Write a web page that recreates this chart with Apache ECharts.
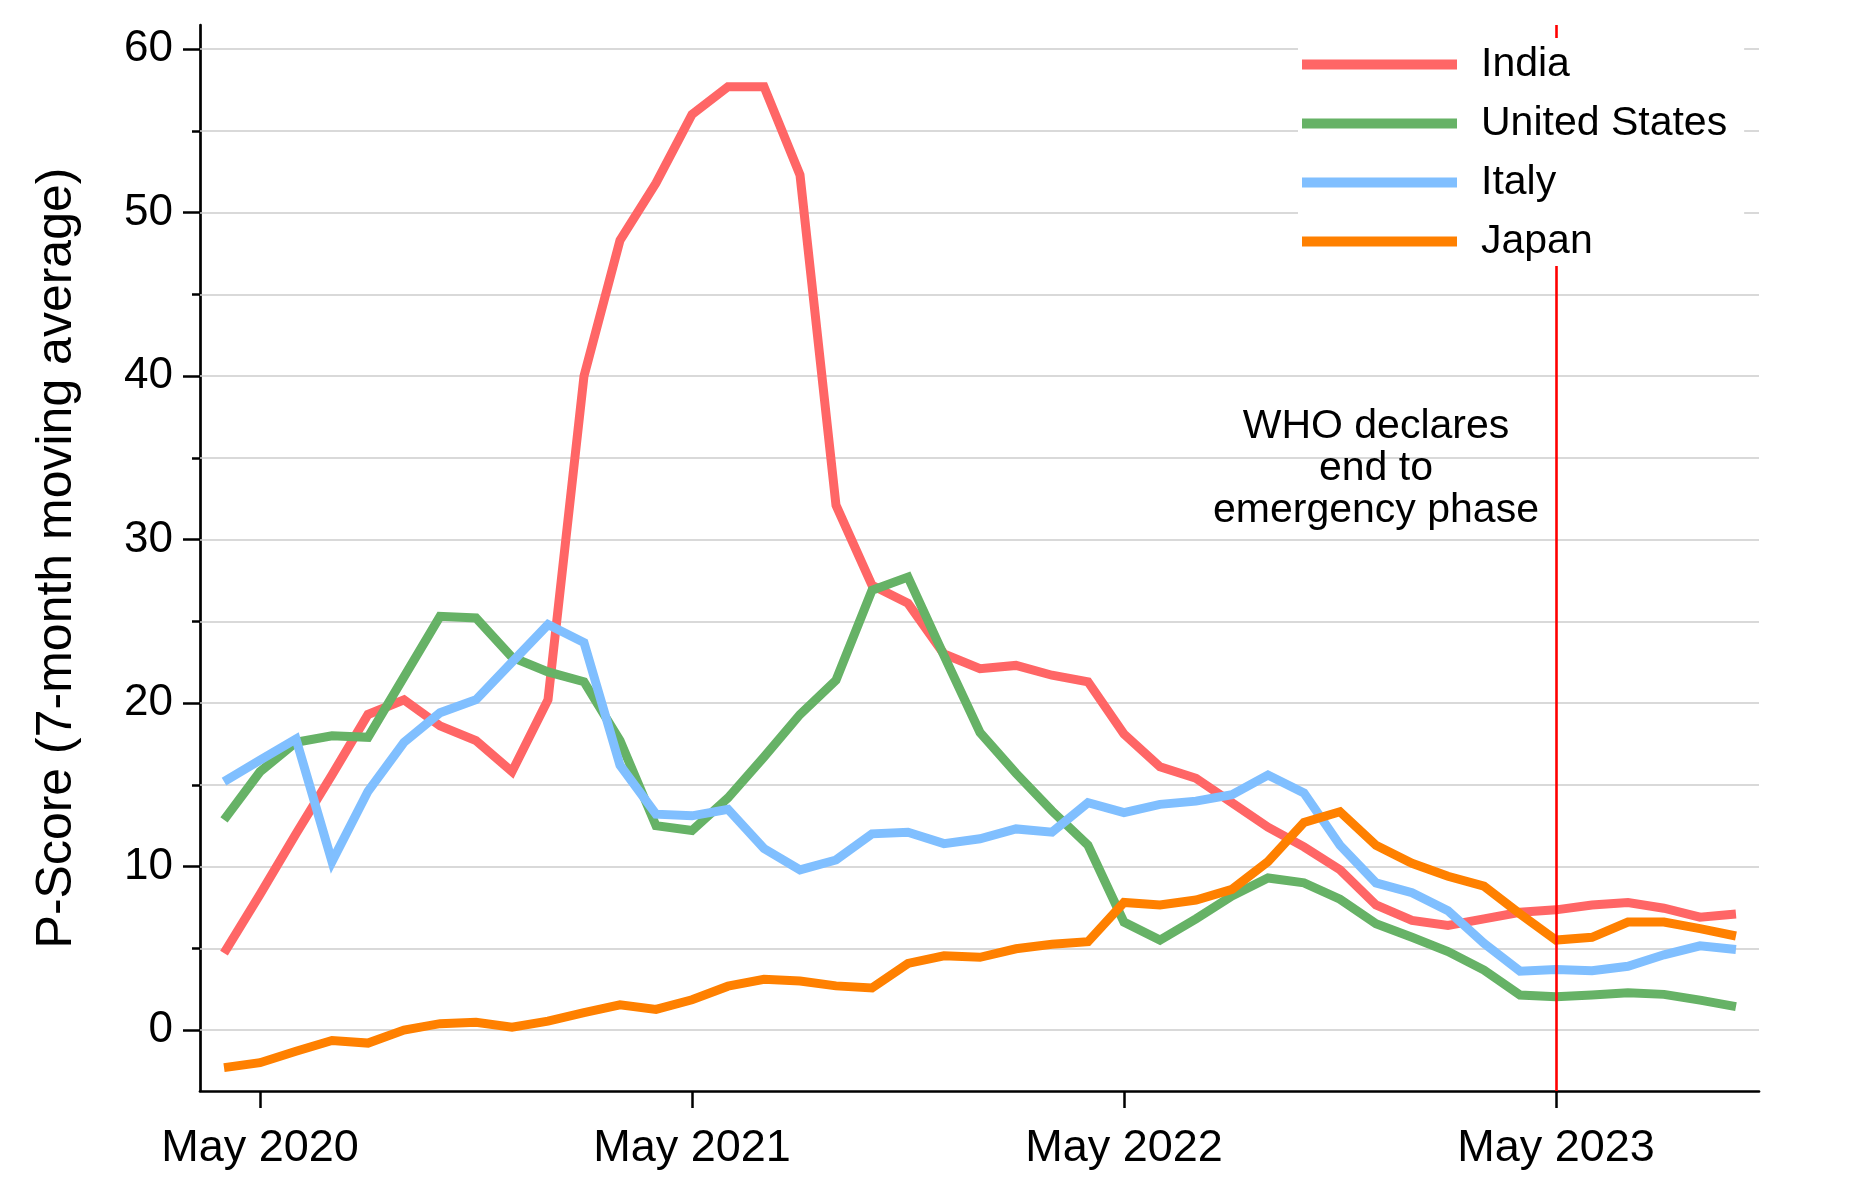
<!DOCTYPE html>
<html>
<head>
<meta charset="utf-8">
<script src="https://cdn.jsdelivr.net/npm/echarts@6/dist/echarts.min.js"></script>
<style>
html,body{margin:0;padding:0;background:#fff;}
#chart{width:1856px;height:1200px;}
</style>
</head>
<body>
<div id="chart"></div>
<script>
// Months from Apr 2020 to Oct 2023 (x value = months since May 2020)
const months = ['Apr 2020','May 2020','Jun 2020','Jul 2020','Aug 2020','Sep 2020','Oct 2020','Nov 2020','Dec 2020',
  'Jan 2021','Feb 2021','Mar 2021','Apr 2021','May 2021','Jun 2021','Jul 2021','Aug 2021','Sep 2021','Oct 2021','Nov 2021','Dec 2021',
  'Jan 2022','Feb 2022','Mar 2022','Apr 2022','May 2022','Jun 2022','Jul 2022','Aug 2022','Sep 2022','Oct 2022','Nov 2022','Dec 2022',
  'Jan 2023','Feb 2023','Mar 2023','Apr 2023','May 2023','Jun 2023','Jul 2023','Aug 2023','Sep 2023','Oct 2023'];

const india = [4.7,8.3,12.0,15.6,19.3,20.2,18.6,17.7,15.8,20.2,40.0,48.3,51.8,56.0,57.7,57.7,52.3,32.1,27.2,26.1,23.0,
  22.1,22.3,21.7,21.3,18.1,16.1,15.4,13.9,12.4,11.2,9.8,7.65,6.7,6.4,6.8,7.2,7.35,7.65,7.8,7.45,6.9,7.1];
const unitedStates = [12.85,15.8,17.6,18.0,17.9,21.6,25.3,25.2,22.8,21.9,21.3,17.7,12.5,12.2,14.2,16.7,19.3,21.4,26.9,27.7,22.9,
  18.2,15.7,13.4,11.3,6.6,5.5,6.8,8.2,9.3,9.0,8.0,6.5,5.67,4.8,3.67,2.14,2.04,2.14,2.28,2.18,1.83,1.43];
const italy = [15.2,16.5,17.8,10.3,14.6,17.6,19.4,20.2,22.5,24.8,23.7,16.2,13.2,13.1,13.5,11.1,9.8,10.4,12.0,12.1,11.4,
  11.7,12.3,12.1,13.9,13.3,13.8,14.0,14.4,15.6,14.5,11.3,9.0,8.4,7.3,5.3,3.6,3.7,3.63,3.9,4.6,5.15,4.93];
const japan = [-2.3,-2.0,-1.3,-0.64,-0.8,0.0,0.39,0.47,0.17,0.54,1.07,1.54,1.26,1.85,2.68,3.1,3.0,2.7,2.57,4.07,4.54,
  4.45,4.97,5.25,5.4,7.8,7.65,7.95,8.6,10.3,12.7,13.35,11.3,10.2,9.4,8.8,7.1,5.5,5.67,6.6,6.6,6.2,5.75];

const seriesNames = ['India','United States','Italy','Japan'];
const seriesColors = ['#ff6666','#66b266','#80bfff','#ff8000'];
const seriesValues = [india, unitedStates, italy, japan];

const xTickValues = [0,12,24,36];
const xTickLabels = ['May 2020','May 2021','May 2022','May 2023'];
const yLabelValues = [0,10,20,30,40,50,60];
const yGridValues = [0,5,10,15,20,25,30,35,40,45,50,55,60];
const whoEventX = 36; // May 2023
const whoText = 'WHO declares\nend to\nemergency phase';
const whoTextAnchor = [31, 34.35];

const FONT = 'Liberation Sans, Arial, sans-serif';

function toPoints(vals){ return vals.map((v,i)=>[i-1, v]); }

const chart = echarts.init(document.getElementById('chart'), null, {renderer:'canvas'});

const series = [];
// gridlines
series.push({
  type:'line', name:'_grid', data:[], z:1, silent:true,
  markLine:{ z:1, silent:true, symbol:'none', animation:false, label:{show:false},
    lineStyle:{color:'#cccccc', width:1.6, type:'solid'},
    data: yGridValues.map(v=>({yAxis:v})) }
});
seriesNames.forEach((n,k)=>{
  series.push({
    type:'line', name:n, data:toPoints(seriesValues[k]), showSymbol:false, symbol:'none',
    lineStyle:{color:seriesColors[k], width:9, cap:'butt', join:'miter'},
    itemStyle:{color:seriesColors[k]}, z:2
  });
});
// event line
series.push({
  type:'line', name:'_event', data:[], z:3, silent:true,
  markLine:{ z:3, silent:true, symbol:'none', animation:false, label:{show:false},
    lineStyle:{color:'#ff0000', width:2.6, type:'solid'},
    data:[{xAxis:whoEventX}] }
});

const yMin = -3.73, yMax = 61.47;

chart.setOption({
  animation:false,
  backgroundColor:'#ffffff',
  grid:{left:200, top:25, right:97, bottom:109, containLabel:false},
  legend:{
    z:10,
    data:seriesNames, orient:'vertical', left:1298, top:38,
    backgroundColor:'#ffffff', padding:[6,17,4,4],
    itemWidth:155, itemHeight:10, itemGap:18, icon:'rect',
    textStyle:{fontFamily:FONT, fontSize:41, color:'#000', padding:[0,0,0,19]},
    selectedMode:false
  },
  xAxis:{
    type:'value', min:-1.667, max:41.64,
    axisLine:{show:true, onZero:false, lineStyle:{color:'#000', width:2.7}},
    axisTick:{show:true, customValues:xTickValues, length:17, lineStyle:{color:'#000', width:2.5}},
    axisLabel:{customValues:xTickValues, margin:35, fontFamily:FONT, fontSize:45, color:'#000',
      formatter:(v)=>{const i=xTickValues.indexOf(v); return i>=0?xTickLabels[i]:'';}},
    splitLine:{show:false}
  },
  yAxis:[{
    type:'value', min:yMin, max:yMax, position:'left',
    name:'P-Score (7-month moving average)', nameLocation:'middle', nameGap:118, nameRotate:90,
    nameTextStyle:{fontFamily:FONT, fontSize:50, color:'#000'},
    axisLine:{show:true, onZero:false, lineStyle:{color:'#000', width:2.7}},
    axisTick:{show:true, customValues:yGridValues, length:8, lineStyle:{color:'#000', width:2.5}},
    axisLabel:{customValues:yLabelValues, margin:27, fontFamily:FONT, fontSize:44, color:'#000'},
    splitLine:{show:false}
  },{
    type:'value', min:yMin, max:yMax, position:'left', offset:0,
    axisLine:{show:false, onZero:false},
    axisTick:{show:true, customValues:yLabelValues, length:17, lineStyle:{color:'#000', width:2.5}},
    axisLabel:{show:false},
    splitLine:{show:false}
  }],
  series: series
});

const p = chart.convertToPixel({gridIndex:0}, whoTextAnchor);
chart.setOption({
  graphic:[{
    type:'text', x:p[0], y:p[1], z:10, silent:true,
    style:{text:whoText, fontFamily:FONT, fontSize:41, lineHeight:42, fill:'#000',
      align:'center', verticalAlign:'middle'}
  }]
});
</script>
</body>
</html>
